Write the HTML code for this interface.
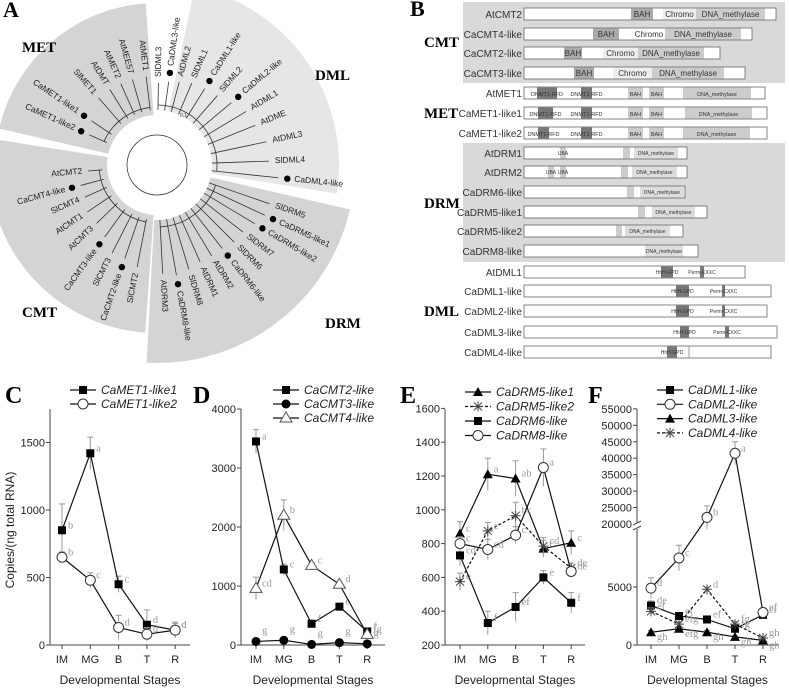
<!DOCTYPE html>
<html><head><meta charset="utf-8"><style>
body{margin:0;background:#fff}
svg{display:block;font-family:"Liberation Sans",sans-serif}
.ser{font-family:"Liberation Serif",serif;font-weight:bold}
</style></head><body>
<svg id="fig" width="789" height="688" viewBox="0 0 789 688">
<g id="panelA"></g>
<g id="panelB"></g>
<g id="charts"></g>
</svg>
<script>
// ---------- Panel A data ----------
const leafNames=["AtMET1","AtMEE57","AtMET2","AtDMT","SlMET1","CaMET1-like1","CaMET1-like2",
"AtCMT2","CaCMT4-like","SlCMT4","AtCMT1","AtCMT3","CaCMT3-like","SlCMT3","CaCMT2-like","SlCMT2",
"AtDRM3","CaDRM8-like","SlDRM8","AtDRM1","AtDRM2","CaDRM6-like","SlDRM6","SlDRM7","CaDRM5-like2","CaDRM5-like1","SlDRM5",
"CaDML4-like","SlDML4","AtDML3","AtDME","AtDML1","CaDML2-like","SlDML2","CaDML1-like","SlDML1","AtDML2","CaDML3-like","SlDML3"];
const leafAngles=[-97,-106,-114,-122,-131,-146,-156,
-185,-195,-204,-214,-224,-234,-243,-251,-259,
87,80,73,66,59,52,45,38,31,25,19,
6,-2,-12,-22,-31,-40,-49,-58,-67,-75,-82,-89];
const leafR=[95,95,95,95,95,85,80, 75,85,85,90,90,95,105,105,110, 115,118,115,112,112,112,115,115,120,125,125, 128,118,118,112,110,103,98,96,95,92,90,88];
const svgNS="http://www.w3.org/2000/svg";
function el(tag,attrs,parent,txt){const e=document.createElementNS(svgNS,tag);for(const k in attrs)e.setAttribute(k,attrs[k]);if(txt!==undefined)e.textContent=txt;parent.appendChild(e);return e;}
const A=document.getElementById('panelA');
const cx=157,cy=165;
function pt(r,a){const t=a*Math.PI/180;return [cx+r*Math.cos(t),cy+r*Math.sin(t)];}
function wedge(a0,a1,r0,r1,fill,name){
  const p1=pt(r0,a0),p2=pt(r1,a0),p3=pt(r1,a1),p4=pt(r0,a1);
  const large=(a1-a0)>180?1:0;
  const w=el('path',{d:`M${p1}L${p2}A${r1},${r1} 0 ${large} 1 ${p3}L${p4}A${r0},${r0} 0 ${large} 0 ${p1}Z`,fill:fill},A);
  
}
wedge(-167,-94,50,162,'#d4d4d4','met-sector');
wedge(-266,-171,50,168,'#d4d4d4','cmt-sector');
wedge(13,93,55,198,'#d4d4d4','drm-sector');
wedge(-78,9,55,182,'#e6e6e6','dml-sector');
el('circle',{cx:cx,cy:cy,r:47,fill:'#fff'},A);
// branches
const tg=el('g',{stroke:'#333','stroke-width':0.8,fill:'none'},A);
el('circle',{cx:cx,cy:cy,r:30},tg);
leafNames.forEach((n,i)=>{const a=leafAngles[i];const p0=pt(55,a),p1=pt(leafR[i]-6,a);
  el('line',{x1:p0[0],y1:p0[1],x2:p1[0],y2:p1[1]},tg);});
[[-156,-97,58],[-259,-185,58],[19,87,62],[-89,6,60]].forEach(g=>{const p=pt(g[2],g[0]),q=pt(g[2],g[1]);el('path',{d:`M${p}A${g[2]},${g[2]} 0 0 1 ${q}`},tg);});
leafNames.forEach((n,i)=>{
  const a=leafAngles[i];const r=leafR[i];
  const isCa=n.startsWith('Ca');
  let norm=((a%360)+360)%360;
  const left=norm>90&&norm<270;
  const dotR=r+3, txtR=isCa?r+10:r;
  if(isCa){const d=pt(dotR,a);const c=el('circle',{cx:d[0],cy:d[1],r:3.2,fill:'#000'},A);
    }
  const p=pt(txtR,a);
  const t=el('text',{x:p[0],y:p[1],'font-size':8.5,fill:'#222','dominant-baseline':'middle',
    'text-anchor':left?'end':'start',transform:`rotate(${left?a+180:a} ${p[0]} ${p[1]})`},A,n);
  
});
[["A",3,17,22],["MET",22,52,15],["DML",315,80,15],["CMT",22,317,15],["DRM",325,328,15]].forEach(l=>{
  const t=el('text',{x:l[1],y:l[2],'font-size':l[3],class:'ser'},A,l[0]);
  });
el('text',{x:180,y:117,'font-size':5,fill:'#444'},A,'0.1');

// ---------- Panel B ----------
const B=document.getElementById('panelB');
const rowNames=["AtCMT2","CaCMT4-like","CaCMT2-like","CaCMT3-like","AtMET1","CaMET1-like1","CaMET1-like2","AtDRM1","AtDRM2","CaDRM6-like","CaDRM5-like1","CaDRM5-like2","CaDRM8-like","AtDML1","CaDML1-like","CaDML2-like","CaDML3-like","CaDML4-like"];
const rowY=[14,34,53,73,93,113,133,153,172,192,212,231,251,272,291,311,332,352];
const rowEnd=[776,752,720,745,765,767,767,687,687,685,707,683,698,745,771,767,777,771];
const rowDomains=[
 [[631,653,'#aaa','BAH'],[663,696,'#eee','Chromo'],[696,765,'#ccc','DNA_methylase']],
 [[593,619,'#aaa','BAH'],[633,665,'#fff','Chromo'],[665,741,'#ccc','DNA_methylase']],
 [[564,582,'#aaa','BAH'],[603,638,'#eee','Chromo'],[638,704,'#ccc','DNA_methylase']],
 [[574,594,'#aaa','BAH'],[613,652,'#eee','Chromo'],[652,724,'#ccc','DNA_methylase']],
 [[537,557,'#777','DNMT1-RFD'],[581,592,'#777','DNMT1-RFD'],[628,643,'#ccc','BAH'],[649,664,'#ccc','BAH'],[683,751,'#ccc','DNA_methylase']],
 [[538,553,'#777','DNMT1-RFD'],[581,592,'#777','DNMT1-RFD'],[628,643,'#ccc','BAH'],[649,664,'#ccc','BAH'],[685,752,'#ccc','DNA_methylase']],
 [[538,549,'#777','DNMT1-RFD'],[581,592,'#777','DNMT1-RFD'],[628,643,'#ccc','BAH'],[649,664,'#ccc','BAH'],[683,750,'#ccc','DNA_methylase']],
 [[560,566,'#ccc','UBA'],[623,630,'#ccc',''],[634,678,'#ddd','DNA_methylase']],
 [[548,554,'#ccc','UBA'],[560,566,'#ccc','UBA'],[621,628,'#ccc',''],[632,677,'#ddd','DNA_methylase']],
 [[627,634,'#ccc',''],[640,684,'#ddd','DNA_methylase']],
 [[638,645,'#ccc',''],[652,695,'#ddd','DNA_methylase']],
 [[616,622,'#ccc',''],[625,670,'#ddd','DNA_methylase']],
 [[645,683,'#ddd','DNA_methylase']],
 [[661,673,'#777','HhH-GPD'],[700,704,'#777','Perm-CXXC']],
 [[676,689,'#777','HhH-GPD'],[722,725,'#777','Perm-CXXC']],
 [[676,689,'#777','HhH-GPD'],[722,725,'#777','Perm-CXXC']],
 [[680,689,'#777','HhH-GPD'],[725,729,'#777','Perm-CXXC']],
 [[667,677,'#777','HhH-GPD'],[688,690,'#ccc','']]
];
el('rect',{x:463,y:2,width:322,height:81,fill:'#d9d9d9'},B);
el('rect',{x:463,y:143,width:322,height:119,fill:'#d9d9d9'},B);
rowNames.forEach((n,i)=>{
  const y=rowY[i];
  const t=el('text',{x:522,y:y+4,'font-size':10,'text-anchor':'end',fill:'#333'},B,n);
  
  const r=el('rect',{x:524,y:y-6,width:rowEnd[i]-524,height:12,fill:'#fff',stroke:'#666','stroke-width':0.8},B);
  
  rowDomains[i].forEach(d=>{
    el('rect',{x:d[0],y:y-5.5,width:d[1]-d[0],height:11,fill:d[2]},B);
    if(d[3]){const small=i>=7;el('text',{x:(d[0]+d[1])/2,y:y+(small?2:3),'font-size':small?5:(i>=4&&i<=6?5.5:8),'text-anchor':'middle',fill:'#333'},B,d[3]);}
  });
});
[["B",410,16,22],["CMT",424,47,15],["MET",424,118,15],["DRM",424,208,15],["DML",424,316,15]].forEach(l=>{
  const t=el('text',{x:l[1],y:l[2],'font-size':l[3],class:'ser'},B,l[0]);
  });

// ---------- Charts data ----------
const stages=["IM","MG","B","T","R"];
const cTicks=[0,500,1000,1500];
const cMet1=[850,1420,450,150,110], cMet1Err=[195,120,60,110,50], cMet1Sig=["b","a","c","d","d"];
const cMet2=[650,480,130,80,110], cMet2Err=[40,55,90,50,60], cMet2Sig=["b","c","d","d","d"];
const dTicks=[0,1000,2000,3000,4000];
const dCmt2=[3450,1280,360,650,230], dCmt2Err=[200,90,60,40,40], dCmt2Sig=["a","c","f","e","f"];
const dCmt3=[60,80,10,40,20], dCmt3Err=[20,20,10,15,10], dCmt3Sig=["g","g","g","g","g"];
const dCmt4=[960,2200,1350,1030,180], dCmt4Err=[190,260,50,40,30], dCmt4Sig=["cd","b","c","d","fg"];
const eTicks=[200,400,600,800,1000,1200,1400,1600];
const eDrm51=[860,1210,1185,770,805], eDrm51Err=[70,95,105,50,70], eDrm51Sig=["c","a","ab","c","c"];
const eDrm52=[575,875,965,785,655], eDrm52Err=[50,50,80,50,30], eDrm52Sig=["e","c","bc","cd","de"];
const eDrm6=[730,330,425,600,450], eDrm6Err=[60,70,85,40,60], eDrm6Sig=["cd","f","ef","e","f"];
const eDrm8=[800,765,850,1250,635], eDrm8Err=[40,60,50,110,30], eDrm8Sig=["c","cd","c","a","de"];
const fTicks=[0,5000,20000,25000,30000,35000,40000,45000,50000,55000];
const fDml1=[3400,2500,2200,1400,2600], fDml1Err=[400,200,200,300,300], fDml1Sig=["de","ef","ef","fg","ef"];
const fDml2=[4900,7500,22000,41500,2800], fDml2Err=[900,1100,3500,3500,400], fDml2Sig=["d","c","b","a","ef"];
const fDml3=[1100,1400,1100,700,400], fDml3Err=[150,150,150,100,80], fDml3Sig=["gh","efg","gh","gh","gh"];
const fDml4=[2900,1800,4800,1800,600], fDml4Err=[300,200,200,200,100], fDml4Sig=["ef","efg","d","fg","gh"];

const C=document.getElementById('charts');
function chart(cfg){
  const g=el('g',{},C);
  
  const X=i=>cfg.x0+i*cfg.dx;
  el('line',{x1:cfg.ax,y1:cfg.top,x2:cfg.ax,y2:645,stroke:'#444','stroke-width':1},g);
  el('line',{x1:cfg.ax,y1:645,x2:cfg.axEnd,y2:645,stroke:'#444','stroke-width':1},g);
  cfg.ticks.forEach(v=>{const y=cfg.Y(v);
    el('line',{x1:cfg.ax-4,y1:y,x2:cfg.ax,y2:y,stroke:'#444'},g);
    const t=el('text',{x:cfg.ax-5,y:y+4,'font-size':11,'text-anchor':'end',fill:'#222'},g,v);
    });
  stages.forEach((s,i)=>{el('line',{x1:X(i),y1:645,x2:X(i),y2:649,stroke:'#444'},g);
    const t=el('text',{x:X(i),y:663,'font-size':11,'text-anchor':'middle',fill:'#222'},g,s);
    });
  const xt=el('text',{x:(cfg.ax+cfg.axEnd)/2,y:684,'font-size':12,'text-anchor':'middle',fill:'#222'},g,'Developmental Stages');
  
  if(cfg.brk){const y=cfg.brk;el('rect',{x:cfg.ax-4,y:y-3,width:8,height:6,fill:'#fff'},g);
    el('line',{x1:cfg.ax-4,y1:y-1,x2:cfg.ax+4,y2:y-5,stroke:'#444'},g);el('line',{x1:cfg.ax-4,y1:y+4,x2:cfg.ax+4,y2:y},g).setAttribute('stroke','#444');}
  const pl=el('text',{x:cfg.letterX,y:403,'font-size':24,class:'ser'},g,cfg.letter);
  
  cfg.series.forEach((s,si)=>{
    const sg=el('g',{},g);
    
    s.v.forEach((v,i)=>{const x=X(i),y1=cfg.Y(v),y2=cfg.Y(v+s.e[i]);
      el('line',{x1:x,y1:y1,x2:x,y2:y2,stroke:'#999'},sg);el('line',{x1:x-3,y1:y2,x2:x+3,y2:y2,stroke:'#999'},sg);
      const y3=cfg.Y(Math.max(v-s.e[i],0));el('line',{x1:x,y1:y1,x2:x,y2:y3,stroke:'#999'},sg);});
    const pts=s.v.map((v,i)=>X(i)+','+cfg.Y(v)).join(' ');
    el('polyline',{points:pts,fill:'none',stroke:'#111','stroke-width':1.2,'stroke-dasharray':s.dash?'3,2':'none'},sg);
    s.v.forEach((v,i)=>{
      const m=marker(sg,s.m,X(i),cfg.Y(v));
      
      el('text',{x:X(i)+6,y:cfg.Y(v)+(s.sy||-2),'font-size':10.5,fill:'#999','font-family':'Liberation Serif,serif'},sg,s.sig[i]);
    });
    const ly=cfg.legY+si*cfg.legDy;
    el('line',{x1:cfg.legX,y1:ly,x2:cfg.legX+26,y2:ly,stroke:'#111','stroke-width':1.2,'stroke-dasharray':s.dash?'3,2':'none'},g);
    marker(g,s.m,cfg.legX+13,ly);
    const lt=el('text',{x:cfg.legX+31,y:ly+4,'font-size':12,'font-style':'italic',fill:'#222'},g,s.label);
    
  });
}
function marker(p,t,x,y){
  if(t==='sq')return el('rect',{x:x-4,y:y-4,width:8,height:8,fill:'#000'},p);
  if(t==='oc')return el('circle',{cx:x,cy:y,r:5,fill:'#fff',stroke:'#333'},p);
  if(t==='fc')return el('circle',{cx:x,cy:y,r:4.5,fill:'#000'},p);
  if(t==='ft')return el('path',{d:`M${x},${y-5}L${x+5},${y+4}L${x-5},${y+4}Z`,fill:'#000'},p);
  if(t==='ot')return el('path',{d:`M${x},${y-6}L${x+6},${y+4}L${x-6},${y+4}Z`,fill:'#fff',stroke:'#555'},p);
  const g=el('g',{stroke:'#444','stroke-width':1},p);
  el('line',{x1:x-5,y1:y,x2:x+5,y2:y},g);el('line',{x1:x,y1:y-5,x2:x,y2:y+5},g);
  el('line',{x1:x-4,y1:y-4,x2:x+4,y2:y+4},g);el('line',{x1:x-4,y1:y+4,x2:x+4,y2:y-4},g);return g;
}
chart({name:'chart-c',letter:'C',letterX:5,ax:50,axEnd:190,top:409,x0:62,dx:28.3,ticks:cTicks,
  Y:v=>645-v*0.135,legX:70,legY:390,legDy:14,
  series:[{label:'CaMET1-like1',v:cMet1,e:cMet1Err,sig:cMet1Sig,m:'sq'},{label:'CaMET1-like2',v:cMet2,e:cMet2Err,sig:cMet2Sig,m:'oc'}]});
chart({name:'chart-d',letter:'D',letterX:193,ax:241,axEnd:385,top:409,x0:256,dx:27.8,ticks:dTicks,
  Y:v=>645-v*0.059,legX:273,legY:390,legDy:14,
  series:[{label:'CaCMT2-like',v:dCmt2,e:dCmt2Err,sig:dCmt2Sig,m:'sq'},{label:'CaCMT3-like',v:dCmt3,e:dCmt3Err,sig:dCmt3Sig,m:'fc',sy:-8},{label:'CaCMT4-like',v:dCmt4,e:dCmt4Err,sig:dCmt4Sig,m:'ot'}]});
chart({name:'chart-e',letter:'E',letterX:400,ax:445,axEnd:585,top:409,x0:460,dx:27.8,ticks:eTicks,
  Y:v=>645-(v-200)*0.169,legX:465,legY:392,legDy:14.5,
  series:[{label:'CaDRM5-like1',v:eDrm51,e:eDrm51Err,sig:eDrm51Sig,m:'ft'},{label:'CaDRM5-like2',v:eDrm52,e:eDrm52Err,sig:eDrm52Sig,m:'st',dash:true},{label:'CaDRM6-like',v:eDrm6,e:eDrm6Err,sig:eDrm6Sig,m:'sq'},{label:'CaDRM8-like',v:eDrm8,e:eDrm8Err,sig:eDrm8Sig,m:'oc'}]});
chart({name:'chart-f',letter:'F',letterX:588,ax:637,axEnd:778,top:409,x0:651,dx:28,ticks:fTicks,brk:526,
  Y:v=>v<=12000?645-v*0.0116:524-(v-20000)*0.00329,legX:657,legY:390,legDy:14.3,
  series:[{label:'CaDML1-like',v:fDml1,e:fDml1Err,sig:fDml1Sig,m:'sq'},{label:'CaDML2-like',v:fDml2,e:fDml2Err,sig:fDml2Sig,m:'oc'},{label:'CaDML3-like',v:fDml3,e:fDml3Err,sig:fDml3Sig,m:'ft',sy:8},{label:'CaDML4-like',v:fDml4,e:fDml4Err,sig:fDml4Sig,m:'st',dash:true}]});
const yt=el('text',{x:14,y:530,'font-size':12,'text-anchor':'middle',fill:'#222',transform:'rotate(-90 14 530)'},C,'Copies/(ng total RNA)');

</script>
</body></html>
